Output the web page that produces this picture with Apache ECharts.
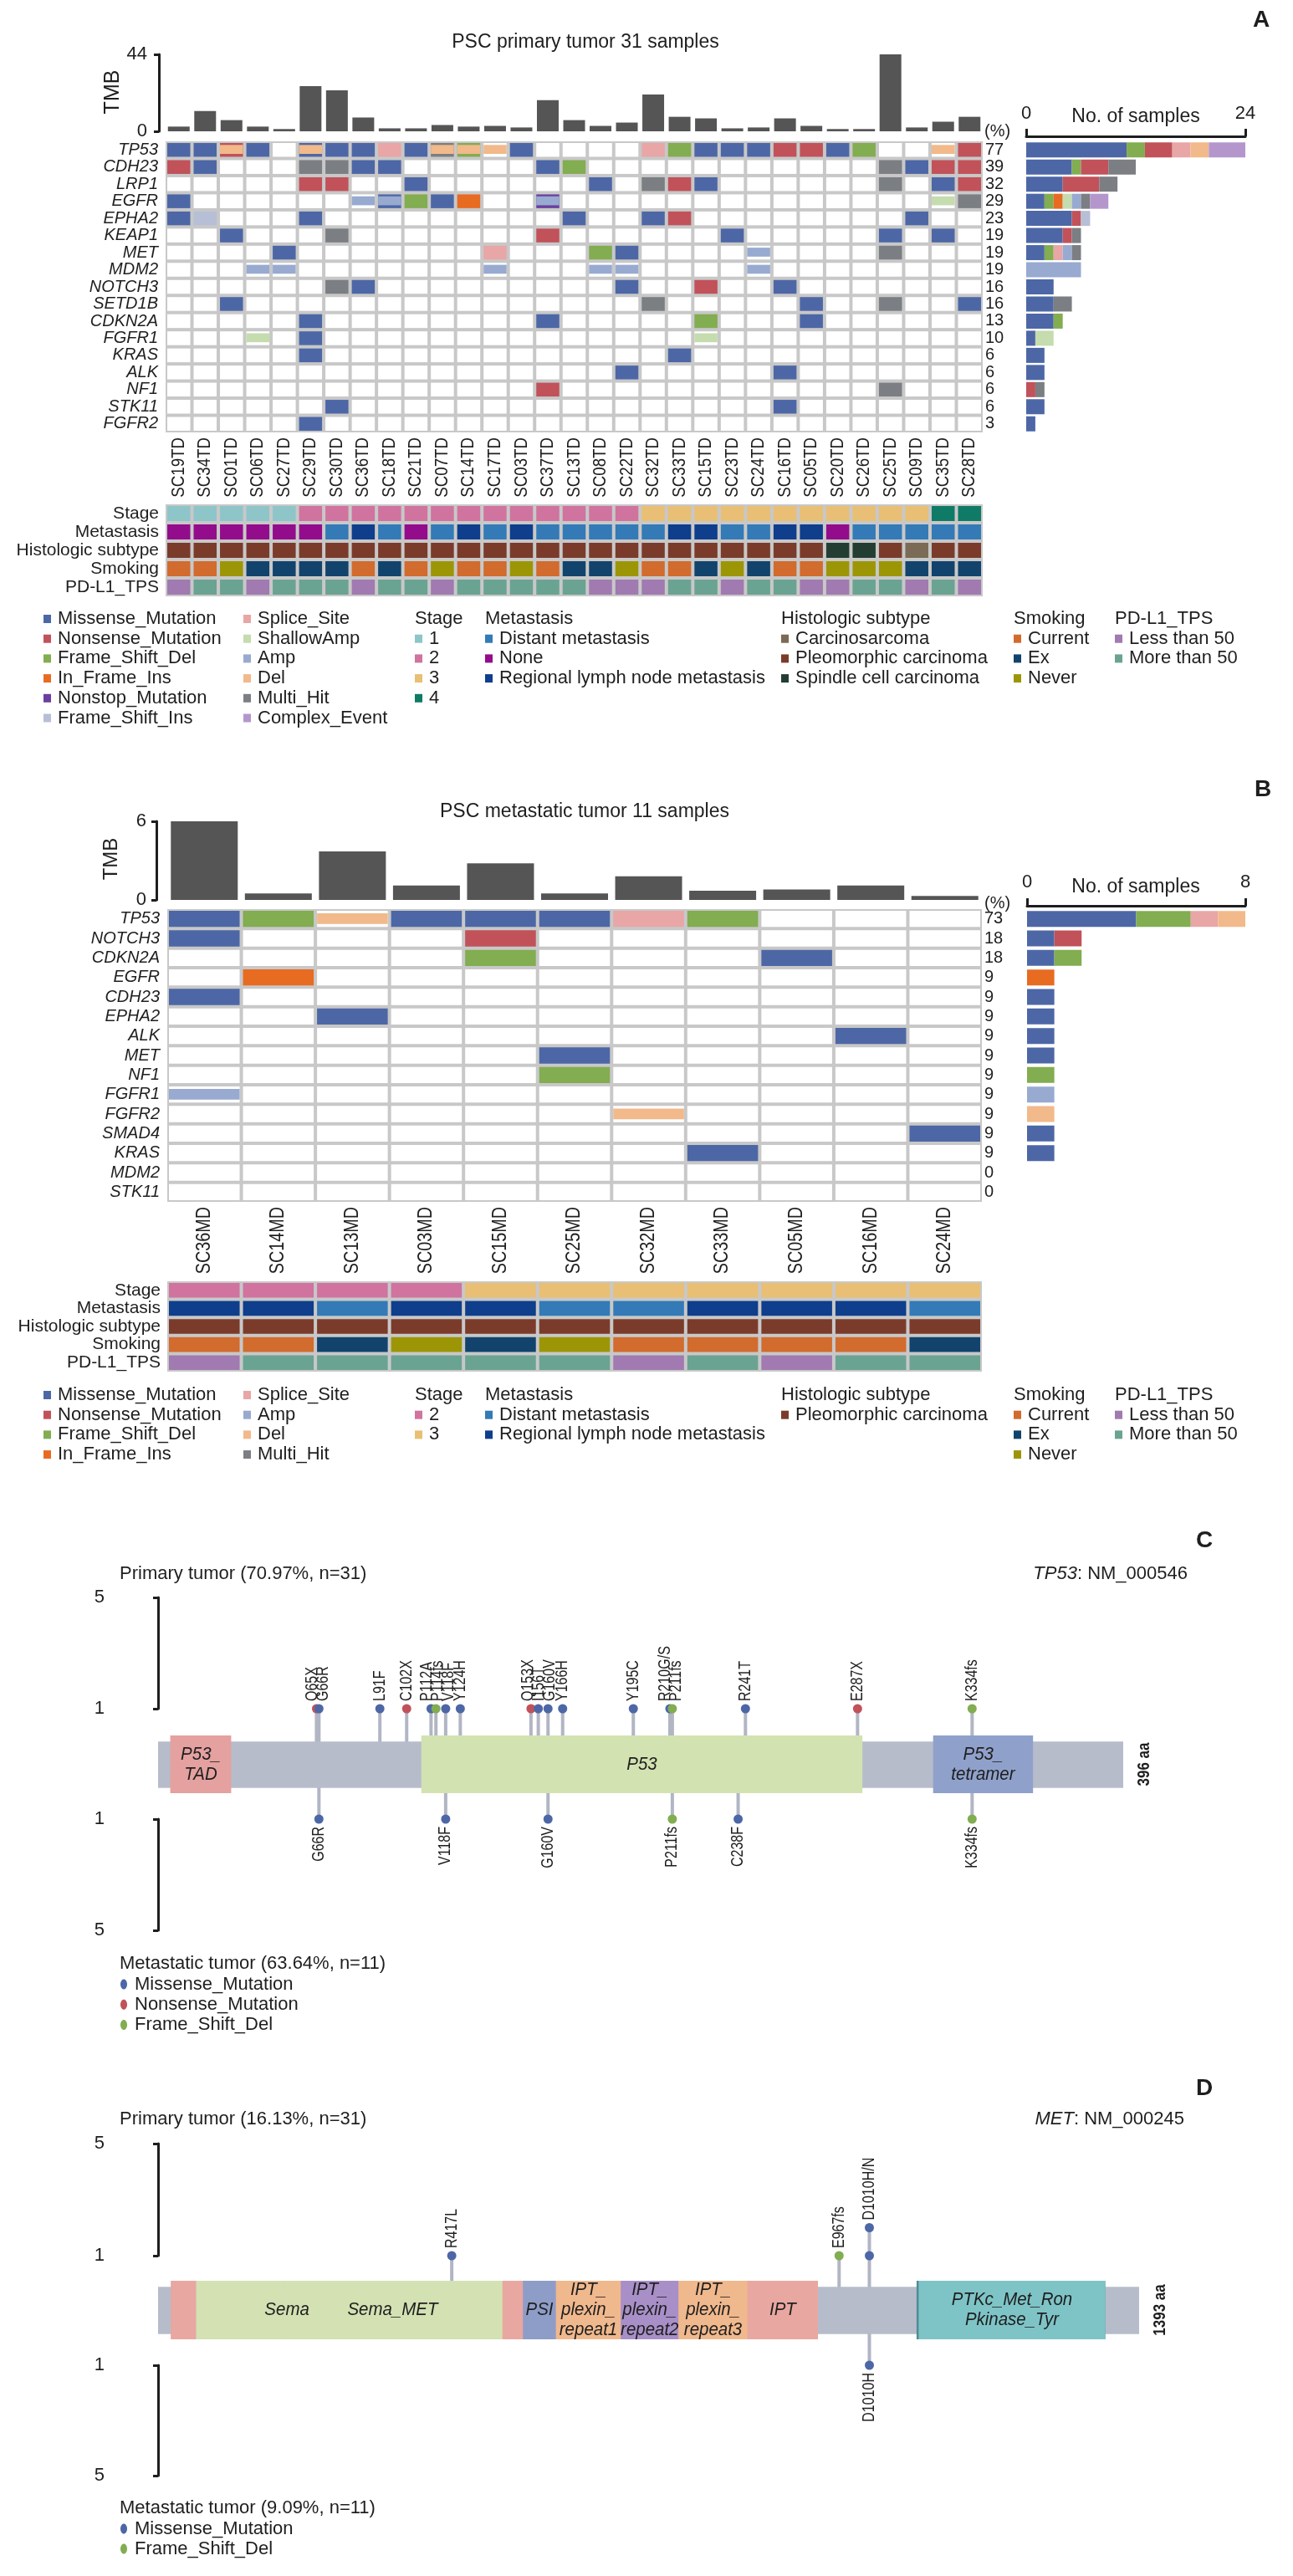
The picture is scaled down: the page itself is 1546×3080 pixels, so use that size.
<!DOCTYPE html>
<html><head><meta charset="utf-8">
<script src="https://cdn.jsdelivr.net/npm/echarts@6/dist/echarts.min.js"></script>
<style>html,body{margin:0;padding:0;background:#fff}#c{width:1546px;height:3080px}</style>
</head><body><div id="c"></div>
<script>
// ================= DATA =================
const samplesA = ['SC19TD','SC34TD','SC01TD','SC06TD','SC27TD','SC29TD','SC30TD','SC36TD','SC18TD','SC21TD','SC07TD','SC14TD','SC17TD','SC03TD','SC37TD','SC13TD','SC08TD','SC22TD','SC32TD','SC33TD','SC15TD','SC23TD','SC24TD','SC16TD','SC05TD','SC20TD','SC26TD','SC25TD','SC09TD','SC35TD','SC28TD'];
const genesA = ['TP53','CDH23','LRP1','EGFR','EPHA2','KEAP1','MET','MDM2','NOTCH3','SETD1B','CDKN2A','FGFR1','KRAS','ALK','NF1','STK11','FGFR2'];
const pctA = [77,39,32,29,23,19,19,19,16,16,13,10,6,6,6,6,3];
const tmbA = [2.7,11.6,6.4,2.7,1.3,25.8,23.4,7.9,1.7,1.7,3.6,2.7,3.1,2.2,17.8,6.4,3.1,5.0,21.1,8.3,7.4,1.7,2.2,7.4,3.1,1.3,1.3,44.0,2.2,5.5,8.3];
// cells "col:code"; upper = mutation (M Missense, N Nonsense, F Frame_Shift_Del, I In_Frame_Ins, T Nonstop, X Frame_Shift_Ins, S Splice_Site, H Multi_Hit), lower = CNV (a Amp, s ShallowAmp, d Del)
const cellsA = [
 '0:M 1:M 2:Nd 3:M 5:Md 6:M 7:M 8:S 9:M 10:Hd 11:Fd 12:d 13:M 18:S 19:F 20:M 21:M 22:M 23:N 24:N 25:M 26:F 29:d 30:N',
 '0:N 1:M 5:H 6:H 7:M 8:M 14:M 15:F 27:H 28:M 29:N 30:N',
 '5:N 6:N 9:M 16:M 18:H 19:N 20:M 27:H 29:M 30:N',
 '0:M 7:a 8:Ma 9:F 10:M 11:I 14:Ta 29:s 30:H',
 '0:M 1:X 5:M 15:M 18:M 19:N 28:M',
 '2:M 6:H 14:N 21:M 27:M 29:M',
 '4:M 12:S 16:F 17:M 22:a 27:H',
 '3:a 4:a 12:a 16:a 17:a 22:a',
 '6:H 7:M 17:M 20:N 23:M',
 '2:M 18:H 24:M 27:H 30:M',
 '5:M 14:M 20:F 24:M',
 '3:s 5:M 20:s',
 '5:M 19:M',
 '17:M 23:M',
 '14:N 27:H',
 '6:M 23:M',
 '5:M'
];
// right-hand sample counts per alteration type (panel A)
const barA_M = [11,5,4,2,5,4,2,0,3,3,3,1,2,2,0,2,1];
const barA_F = [2,1,0,1,0,0,1,0,0,0,1,0,0,0,0,0,0];
const barA_I = [0,0,0,1,0,0,0,0,0,0,0,0,0,0,0,0,0];
const barA_N = [3,3,4,0,1,1,0,0,0,0,0,0,0,0,1,0,0];
const barA_X = [0,0,0,0,1,0,0,0,0,0,0,0,0,0,0,0,0];
const barA_S = [2,0,0,0,0,0,1,0,0,0,0,0,0,0,0,0,0];
const barA_s = [0,0,0,1,0,0,0,0,0,0,0,2,0,0,0,0,0];
const barA_a = [0,0,0,1,0,0,1,6,0,0,0,0,0,0,0,0,0];
const barA_d = [2,0,0,0,0,0,0,0,0,0,0,0,0,0,0,0,0];
const barA_H = [0,3,2,1,0,1,1,0,0,2,0,0,0,0,1,0,0];
const barA_C = [4,0,0,2,0,0,0,0,0,0,0,0,0,0,0,0,0];
const trackNames = ['Stage','Metastasis','Histologic subtype','Smoking','PD-L1_TPS'];
const stageA = '1 1 1 1 1 2 2 2 2 2 2 2 2 2 2 2 2 2 3 3 3 3 3 3 3 3 3 3 3 4 4';
const metaA  = 'N N N N N N D R D N D R D R D D D D D R R D D R R N D D D D D';
const histA  = 'P P P P P P P P P P P P P P P P P P P P P P P P P S S P C P P';
const smokeA = 'C C N E E E E C E C N C C N C E E N C C E N E C C N N N E E E';
const pdA    = 'L M M L M M M L M M L M M M M M L L L M M L M M L L M M L M L';

const samplesB = ['SC36MD','SC14MD','SC13MD','SC03MD','SC15MD','SC25MD','SC32MD','SC33MD','SC05MD','SC16MD','SC24MD'];
const genesB = ['TP53','NOTCH3','CDKN2A','EGFR','CDH23','EPHA2','ALK','MET','NF1','FGFR1','FGFR2','SMAD4','KRAS','MDM2','STK11'];
const pctB = [73,18,18,9,9,9,9,9,9,9,9,9,9,0,0];
const tmbB = [6.3,0.5,3.7,1.1,2.8,0.5,1.8,0.7,0.8,1.1,0.3];
const cellsB = [
 '0:M 1:F 2:d 3:M 4:M 5:M 6:S 7:F',
 '0:M 4:N', '4:F 8:M', '1:I', '0:M', '2:M', '9:M', '5:M', '5:F', '0:a', '6:d', '10:M', '7:M', '', ''
];
const barB_M = [4,1,1,0,1,1,1,1,0,0,0,1,1,0,0];
const barB_F = [2,0,1,0,0,0,0,0,1,0,0,0,0,0,0];
const barB_I = [0,0,0,1,0,0,0,0,0,0,0,0,0,0,0];
const barB_N = [0,1,0,0,0,0,0,0,0,0,0,0,0,0,0];
const barB_S = [1,0,0,0,0,0,0,0,0,0,0,0,0,0,0];
const barB_a = [0,0,0,0,0,0,0,0,0,1,0,0,0,0,0];
const barB_d = [1,0,0,0,0,0,0,0,0,0,1,0,0,0,0];
const stageB = '2 2 2 2 3 3 3 3 3 3 3';
const metaB  = 'R R D R R D D R R R D';
const histB  = 'P P P P P P P P P P P';
const smokeB = 'C C E N E N C C C C E';
const pdB    = 'L M M M M M L M L M M';

// lollipops (TP53, 396 aa)
const lenC = 396;
const domKeyC = ['P53_TAD','P53','P53_tetramer'];
const domStartC = [5,108,318];
const domEndC = [30,289,359];
const popC_aa = [65,66,91,102,112,114,118,124,153,156,160,166,195,210,211,241,287,334];
const popC_n = [1,1,1,1,1,1,1,1,1,1,1,1,1,1,1,1,1,1];
const popC_type = ['N','M','M','N','M','F','M','M','N','M','M','M','M','M','F','M','N','F'];
const popC_label = ['Q65X','G66R','L91F','C102X','P112A','P114fs','V118F','Y124H','Q153X','I156T','G160V','Y166H','Y195C','R210G/S','P211fs','R241T','E287X','K334fs'];
const metC_aa = [66,118,160,211,238,334];
const metC_n = [1,1,1,1,1,1];
const metC_type = ['M','M','M','F','M','F'];
const metC_label = ['G66R','V118F','G160V','P211fs','C238F','K334fs'];
// MET, 1393 aa
const lenD = 1393;
const domKeyD = ['MET_ext','Sema','Sema_MET','PSI','IPT_plexin_repeat1','IPT_plexin_repeat2','IPT_plexin_repeat3','IPT','Pkinase_edge','PTKc_Met_Ron'];
const domStartD = [18,54,177,518,565,657,739,837,1077,1080];
const domEndD = [937,312,489,565,657,739,837,937,1345,1345];
const popD_aa = [417,967,1010];
const popD_n = [1,1,2];
const popD_type = ['M','F','M'];
const popD_label = ['R417L','E967fs','D1010H/N'];
const metD_aa = [1010];
const metD_n = [1];
const metD_type = ['M'];
const metD_label = ['D1010H'];

// ================= STYLE =================
const FONT = '"Liberation Sans", Arial, Helvetica, sans-serif';
const TXT = '#1e1e1e';
const COL = {M:'#4d67a6', N:'#c1525a', F:'#82ad50', I:'#e86b22', T:'#6b3fa0', X:'#b6bfd5', S:'#e8a6a6', s:'#c5dcae', a:'#98aad0', d:'#f2b98b', H:'#7b7e82', C:'#b496cc'};
const TYPE_NAME = {M:'Missense_Mutation', N:'Nonsense_Mutation', F:'Frame_Shift_Del', I:'In_Frame_Ins', T:'Nonstop_Mutation', X:'Frame_Shift_Ins', S:'Splice_Site', s:'ShallowAmp', a:'Amp', d:'Del', H:'Multi_Hit', C:'Complex_Event'};
const TRACK_COL = [
  {'1':'#8ec5c9','2':'#d0739f','3':'#e8bf74','4':'#0f7a66'},
  {D:'#337ab7',N:'#930c8c',R:'#0e3e8c'},
  {C:'#7b6a55',P:'#7b3b2b',S:'#233d33'},
  {C:'#d26b2e',E:'#12436d',N:'#9c9606'},
  {L:'#a07ab0',M:'#6aa392'}
];
const DOM_COL = {P53_TAD:'#e4a19f', P53:'#d3e2b1', P53_tetramer:'#8fa1cb', MET_ext:'#e8a7a0', Sema:'#d3e1b3', Sema_MET:'#d3e1b3', PSI:'#8d9dc8', IPT_plexin_repeat1:'#f0b88d', IPT_plexin_repeat2:'#a88fc8', IPT_plexin_repeat3:'#f0b88d', IPT:'#e8a7a0', Pkinase_edge:'#4f8c96', PTKc_Met_Ron:'#7ec4c7'};
const DOM_LABEL = {P53_TAD:'P53_\nTAD', P53:'P53', P53_tetramer:'P53_\ntetramer', MET_ext:'', Sema:'Sema', Sema_MET:'Sema_MET', PSI:'PSI', IPT_plexin_repeat1:'IPT_\nplexin_\nrepeat1', IPT_plexin_repeat2:'IPT_\nplexin_\nrepeat2', IPT_plexin_repeat3:'IPT_\nplexin_\nrepeat3', IPT:'IPT', Pkinase_edge:'', PTKc_Met_Ron:'PTKc_Met_Ron\nPkinase_Tyr'};
const BACKBONE = '#b7bccb', STEM = '#b1b5c4', GRIDBG = '#c8c8c8', TMBCOL = '#555555';

// ================= HELPERS =================
function parseCells(rows, n){
  const out = [];
  rows.forEach((r, gi) => {
    const map = {};
    r.trim().split(/\s+/).filter(Boolean).forEach(t => { const p = t.split(':'); map[+p[0]] = p[1]; });
    for (let c = 0; c < n; c++) { const code = map[c] || ''; out.push({col:c, row:gi, mut:code.replace(/[asd]/g,''), cnv:code.replace(/[^asd]/g,'')}); }
  });
  return out;
}
function parseTracks(list){
  const out = [];
  list.forEach((s, ti) => s.split(' ').forEach((v, c) => out.push({col:c, row:ti, color:TRACK_COL[ti][v]})));
  return out;
}
function heatSeries(cells, xi, yi, band){
  return {type:'custom', xAxisIndex:xi, yAxisIndex:yi, silent:true, animation:false,
    data: cells.map(c => [c.col, c.row]),
    renderItem: (params, api) => {
      const c = cells[params.dataIndex];
      const p = api.coord([c.col, c.row]); const s = api.size([1,1]);
      const w = s[0]-4, h = s[1]-4, x = p[0]-w/2, y = p[1]-h/2;
      const ch = [{type:'rect', shape:{x, y, width:w, height:h}, style:{fill: c.mut ? COL[c.mut] : '#fff'}}];
      if (c.cnv) ch.push({type:'rect', shape:{x, y:y+h*band[0], width:w, height:h*(band[1]-band[0])}, style:{fill:COL[c.cnv]}});
      return {type:'group', children:ch};
    }};
}
function trackSeries(items, xi, yi){
  return {type:'custom', xAxisIndex:xi, yAxisIndex:yi, silent:true, animation:false,
    data: items.map(c => [c.col, c.row]),
    renderItem: (params, api) => {
      const c = items[params.dataIndex];
      const p = api.coord([c.col, c.row]); const s = api.size([1,1]);
      const w = s[0]-4, h = s[1]-4;
      return {type:'rect', shape:{x:p[0]-w/2, y:p[1]-h/2, width:w, height:h}, style:{fill:c.color}};
    }};
}
function repel(xs, gap){
  const idx = xs.map((x,i)=>i).sort((a,b)=>xs[a]-xs[b]);
  const cl = [];
  idx.forEach(i => { const last = cl[cl.length-1]; if (last && xs[i]-xs[last[last.length-1]] < gap) last.push(i); else cl.push([i]); });
  const out = new Array(xs.length);
  cl.forEach(g => { const m = g.reduce((s,i)=>s+xs[i],0)/g.length; g.forEach((i,k)=>{ out[i] = m + (k-(g.length-1)/2)*gap; }); });
  return out;
}
function lolliSeries(aa, n, type, xi, yi){
  return {type:'custom', xAxisIndex:xi, yAxisIndex:yi, silent:true, z:2, animation:false,
    data: aa.map((a,i)=>[a, n[i]]),
    renderItem: (params, api) => {
      const i = params.dataIndex;
      const base = api.coord([aa[i], -0.35]), tip = api.coord([aa[i], n[i]]);
      const ch = [{type:'line', shape:{x1:base[0], y1:base[1], x2:tip[0], y2:tip[1]}, style:{stroke:STEM, lineWidth:4}}];
      for (let k=1; k<=n[i]; k++){ const p = api.coord([aa[i], k]); ch.push({type:'circle', z2:5, shape:{cx:p[0], cy:p[1], r:5.5}, style:{fill:COL[type[i]]}}); }
      return {type:'group', children:ch};
    }};
}
function proteinSeries(len, keys, starts, ends, xi, yi){
  const items = [{bb:true, s:0, e:len}].concat(keys.map((k,i)=>({k, s:starts[i], e:ends[i]})));
  return {type:'custom', xAxisIndex:xi, yAxisIndex:yi, silent:true, z:3, animation:false,
    data: items.map(it => [it.s, it.e]),
    renderItem: (params, api) => {
      const it = items[params.dataIndex];
      if (it.bb){
        const a = api.coord([0, 0.895]), b = api.coord([len, 0.09]);
        return {type:'rect', shape:{x:a[0], y:a[1], width:b[0]-a[0], height:b[1]-a[1]}, style:{fill:BACKBONE}};
      }
      const a = api.coord([it.s, 1]), b = api.coord([it.e, 0]);
      return {type:'rect', shape:{x:a[0], y:a[1], width:b[0]-a[0], height:b[1]-a[1]}, style:{fill:DOM_COL[it.k]}};
    }};
}
function barSeries(codes, arrays, xi, yi, stack, bw){
  return codes.map((c,i) => ({type:'bar', name:TYPE_NAME[c], xAxisIndex:xi, yAxisIndex:yi, stack, barWidth:bw, silent:true, animation:false, itemStyle:{color:COL[c]}, data:arrays[i]}));
}

// ================= GRAPHIC TEXT =================
const G = [];
function txt(x, y, text, font, align, va, rot, extra, el){
  align = align || 'left'; va = va || 'middle';
  G.push(Object.assign({type:'text', x, y, rotation:rot||0, silent:true, z:50, style:Object.assign({text, font, fill:TXT, align, textAlign:align, verticalAlign:va, textVerticalAlign:va}, extra||{})}, el||{}));
}
function legendCol(x, y0, dy, title, items, shape){
  let r = 0;
  if (title){ txt(x, y0, title, '22px '+FONT); r = 1; }
  items.forEach(([label, color]) => {
    const y = y0 + dy*r;
    if (shape === 'dot') G.push({type:'ellipse', silent:true, shape:{cx:x+5, cy:y, rx:4, ry:6}, style:{fill:color}});
    else G.push({type:'rect', silent:true, shape:{x:x, y:y-5, width:9, height:10}, style:{fill:color}});
    txt(x + (shape==='dot'?18:17), y, label, '22px '+FONT);
    r++;
  });
}
const mk = codes => codes.map(c => [TYPE_NAME[c], COL[c]]);
// Panel A
txt(1508, 24, 'A', 'bold 28px '+FONT, 'center');
txt(700, 51, 'PSC primary tumor 31 samples', '23px '+FONT, 'center');
txt(135, 110, 'TMB', '25px '+FONT, 'center', 'middle', Math.PI/2);
txt(1177, 157, '(%)', '20px '+FONT);
txt(1358, 140, 'No. of samples', '23px '+FONT, 'center');
const LA = 740, LD = 23.7;
legendCol(52, LA, LD, null, mk(['M','N','F','I','T','X']));
legendCol(291, LA, LD, null, mk(['S','s','a','d','H','C']));
legendCol(496, LA, LD, 'Stage', [['1',TRACK_COL[0]['1']],['2',TRACK_COL[0]['2']],['3',TRACK_COL[0]['3']],['4',TRACK_COL[0]['4']]]);
legendCol(580, LA, LD, 'Metastasis', [['Distant metastasis',TRACK_COL[1].D],['None',TRACK_COL[1].N],['Regional lymph node metastasis',TRACK_COL[1].R]]);
legendCol(934, LA, LD, 'Histologic subtype', [['Carcinosarcoma',TRACK_COL[2].C],['Pleomorphic carcinoma',TRACK_COL[2].P],['Spindle cell carcinoma',TRACK_COL[2].S]]);
legendCol(1212, LA, LD, 'Smoking', [['Current',TRACK_COL[3].C],['Ex',TRACK_COL[3].E],['Never',TRACK_COL[3].N]]);
legendCol(1333, LA, LD, 'PD-L1_TPS', [['Less than 50',TRACK_COL[4].L],['More than 50',TRACK_COL[4].M]]);
// Panel B
txt(1510, 944, 'B', 'bold 28px '+FONT, 'center');
txt(699, 971, 'PSC metastatic tumor 11 samples', '23px '+FONT, 'center');
txt(133, 1027, 'TMB', '24px '+FONT, 'center', 'middle', Math.PI/2);
txt(1177, 1080, '(%)', '20px '+FONT);
txt(1358, 1061, 'No. of samples', '23px '+FONT, 'center');
const LB = 1668;
legendCol(52, LB, LD, null, mk(['M','N','F','I']));
legendCol(291, LB, LD, null, mk(['S','a','d','H']));
legendCol(496, LB, LD, 'Stage', [['2',TRACK_COL[0]['2']],['3',TRACK_COL[0]['3']]]);
legendCol(580, LB, LD, 'Metastasis', [['Distant metastasis',TRACK_COL[1].D],['Regional lymph node metastasis',TRACK_COL[1].R]]);
legendCol(934, LB, LD, 'Histologic subtype', [['Pleomorphic carcinoma',TRACK_COL[2].P]]);
legendCol(1212, LB, LD, 'Smoking', [['Current',TRACK_COL[3].C],['Ex',TRACK_COL[3].E],['Never',TRACK_COL[3].N]]);
legendCol(1333, LB, LD, 'PD-L1_TPS', [['Less than 50',TRACK_COL[4].L],['More than 50',TRACK_COL[4].M]]);
// Panel C
txt(1440, 1842, 'C', 'bold 28px '+FONT, 'center');
txt(143, 1882, 'Primary tumor (70.97%, n=31)', '22px '+FONT);
txt(1420, 1882, '{i|TP53}: NM_000546', '22px '+FONT, 'right', 'middle', 0, {rich:{i:{font:'italic 22px '+FONT, fill:TXT}}});
txt(143, 2348, 'Metastatic tumor (63.64%, n=11)', '22px '+FONT);
legendCol(143, 2372.5, 24.3, null, mk(['M','N','F']), 'dot');
// Panel D
txt(1440, 2497, 'D', 'bold 28px '+FONT, 'center');
txt(143, 2534, 'Primary tumor (16.13%, n=31)', '22px '+FONT);
txt(1416, 2534, '{i|MET}: NM_000245', '22px '+FONT, 'right', 'middle', 0, {rich:{i:{font:'italic 22px '+FONT, fill:TXT}}});
txt(143, 2999, 'Metastatic tumor (9.09%, n=11)', '22px '+FONT);
legendCol(143, 3023.5, 24, null, mk(['M','F']), 'dot');

// ================= AXES =================
const lab = (o) => Object.assign({color:TXT, fontFamily:FONT}, o);
const hidCat = (gi, data, inv) => ({gridIndex:gi, type:'category', data, inverse:!!inv, show:false});
const hidVal = (gi, min, max) => ({gridIndex:gi, type:'value', min, max, show:false});
const blackLine = {show:true, lineStyle:{color:'#1e1e1e', width:3}};
const tmbAxis = (gi, max, off, margin) => ({gridIndex:gi, type:'value', min:0, max, interval:max, offset:off,
  axisLine:blackLine, axisTick:{show:true, length:6, lineStyle:{color:'#1e1e1e', width:3}},
  axisLabel:lab({fontSize:22, margin}), splitLine:{show:false}});
const cntAxis = (gi, max, off, margin) => ({gridIndex:gi, type:'value', position:'top', min:0, max, interval:max, offset:off,
  axisLine:blackLine, axisTick:{show:true, length:9, lineStyle:{color:'#1e1e1e', width:3}},
  axisLabel:lab({fontSize:22, margin}), splitLine:{show:false}});
const geneAxis = (gi, data) => ({gridIndex:gi, type:'category', data, inverse:true, axisLine:{show:false}, axisTick:{show:false},
  axisLabel:lab({fontSize:20, fontStyle:'italic', margin:9, interval:0})});
const pctAxis = (gi, data, pct) => ({gridIndex:gi, type:'category', data, inverse:true, position:'right', axisLine:{show:false}, axisTick:{show:false},
  axisLabel:lab({fontSize:20, margin:3, interval:0, formatter:(v,i)=>String(pct[i])})});
const sampleAxis = (gi, data) => ({gridIndex:gi, type:'category', data, position:'bottom', axisLine:{show:false}, axisTick:{show:false}, axisLabel:{show:false}});
const trackAxis = (gi) => ({gridIndex:gi, type:'category', data:trackNames, inverse:true, axisLine:{show:false}, axisTick:{show:false},
  axisLabel:lab({fontSize:21, margin:8, interval:0})});
const popAxis = (gi, inv) => ({gridIndex:gi, type:'value', min:1, max:5, interval:4, inverse:!!inv, offset:50,
  axisLine:blackLine, axisTick:{show:true, length:6, lineStyle:{color:'#1e1e1e', width:3}, customValues:[1,5]},
  axisLabel:lab({fontSize:22, margin:14, customValues:[1,5]}), splitLine:{show:false}});

const gbase = {outerBoundsMode:'none', containLabel:false};
const bgGrid = {show:true, backgroundColor:GRIDBG, borderWidth:0};
const grids = [
  {left:198, top:65, width:977, height:92},
  Object.assign({left:198, top:169, width:977, height:348}, bgGrid),
  {left:1227, top:169, width:262, height:348},
  Object.assign({left:198, top:603, width:977, height:110}, bgGrid),
  {left:200, top:982, width:974, height:94},
  Object.assign({left:200, top:1087, width:974, height:350}, bgGrid),
  {left:1228, top:1087, width:261, height:350},
  Object.assign({left:200, top:1532, width:974, height:108}, bgGrid),
  {left:189, top:1910, width:1154, height:133},
  {left:189, top:2075, width:1154, height:69},
  {left:189, top:2175, width:1154, height:133},
  {left:189, top:2563, width:1173, height:134},
  {left:189, top:2727, width:1173, height:70},
  {left:189, top:2828, width:1173, height:132}
].map(g => Object.assign({}, gbase, g));

const xAxes = [
  hidCat(0, samplesA), sampleAxis(1, samplesA), cntAxis(2, 24, 6, 16), hidCat(3, samplesA),
  hidCat(4, samplesB), sampleAxis(5, samplesB), cntAxis(6, 8, 4, 17), hidCat(7, samplesB),
  hidVal(8, 0, lenC), hidVal(9, 0, lenC), hidVal(10, 0, lenC),
  hidVal(11, 0, lenD), hidVal(12, 0, lenD), hidVal(13, 0, lenD)
];
const yAxes = [
  tmbAxis(0, 44, 8, 14), geneAxis(1, genesA), pctAxis(1, genesA, pctA), hidCat(2, genesA, true), trackAxis(3),
  tmbAxis(4, 6, 13, 12), geneAxis(5, genesB), pctAxis(5, genesB, pctB), hidCat(6, genesB, true), trackAxis(7),
  popAxis(8, false), hidVal(9, 0, 1), popAxis(10, true),
  popAxis(11, false), hidVal(12, 0, 1), popAxis(13, true)
];

// ================= SERIES =================
const cA = parseCells(cellsA, samplesA.length), cB = parseCells(cellsB, samplesB.length);
const series = [].concat(
  [{type:'bar', xAxisIndex:0, yAxisIndex:0, data:tmbA, barWidth:26, silent:true, animation:false, itemStyle:{color:TMBCOL}}],
  [heatSeries(cA, 1, 1, [0.14, 0.79])],
  barSeries(['M','F','I','N','X','S','s','a','d','H','C'], [barA_M,barA_F,barA_I,barA_N,barA_X,barA_S,barA_s,barA_a,barA_d,barA_H,barA_C], 2, 3, 'a', 18),
  [trackSeries(parseTracks([stageA, metaA, histA, smokeA, pdA]), 3, 4)],
  [{type:'bar', xAxisIndex:4, yAxisIndex:5, data:tmbB, barWidth:80, silent:true, animation:false, itemStyle:{color:TMBCOL}}],
  [heatSeries(cB, 5, 6, [0.16, 0.82])],
  barSeries(['M','F','I','N','S','a','d'], [barB_M,barB_F,barB_I,barB_N,barB_S,barB_a,barB_d], 6, 8, 'b', 19),
  [trackSeries(parseTracks([stageB, metaB, histB, smokeB, pdB]), 7, 9)],
  [proteinSeries(lenC, domKeyC, domStartC, domEndC, 9, 11)],
  [lolliSeries(popC_aa, popC_n, popC_type, 8, 10)],
  [lolliSeries(metC_aa, metC_n, metC_type, 10, 12)],
  [proteinSeries(lenD, domKeyD, domStartD, domEndD, 12, 14)],
  [lolliSeries(popD_aa, popD_n, popD_type, 11, 13)],
  [lolliSeries(metD_aa, metD_n, metD_type, 13, 15)]
);

const chart = echarts.init(document.getElementById('c'), null, {renderer:'canvas', width:1546, height:3080});
chart.setOption({
  backgroundColor:'#ffffff', animation:false,
  textStyle:{fontFamily:FONT},
  grid:grids, xAxis:xAxes, yAxis:yAxes, series, graphic:G
});

// ---- labels placed through the chart's own scales (convertToPixel) ----
function sampleLabels(samples, xi, yi, nRows, size, sx){
  const f = {xAxisIndex:xi, yAxisIndex:yi};
  const last = chart.convertToPixel(f, [0, nRows-1]), prev = chart.convertToPixel(f, [0, nRows-2]);
  const bottom = last[1] + (last[1]-prev[1])/2;
  samples.forEach((s, i) => {
    const p = chart.convertToPixel(f, [i, nRows-1]);
    txt(p[0], bottom + 6, s, size+'px '+FONT, 'right', 'middle', Math.PI/2, null, {scaleX:sx});
  });
}
function lolliLabels(aa, n, label, xi, yi, side){
  const f = {xAxisIndex:xi, yAxisIndex:yi};
  const xs = aa.map(a => chart.convertToPixel(f, [a, 1])[0]);
  const lx = repel(xs, 13);
  aa.forEach((a, i) => {
    const tip = chart.convertToPixel(f, [a, n[i]]);
    txt(lx[i], tip[1] + (side > 0 ? -9 : 9), label[i], '20px '+FONT, side > 0 ? 'left' : 'right', 'middle', Math.PI/2, null, {scaleX:0.8});
  });
}
function domainLabels(len, keys, starts, ends, xi, yi){
  const f = {xAxisIndex:xi, yAxisIndex:yi};
  keys.forEach((k, i) => {
    if (!DOM_LABEL[k]) return;
    const c = chart.convertToPixel(f, [(starts[i]+ends[i])/2, 0.5]);
    txt(c[0], c[1], DOM_LABEL[k], 'italic 22px '+FONT, 'center', 'middle', 0, {lineHeight:24}, {scaleX:0.93});
  });
  const m = chart.convertToPixel(f, [len, 0.5]);
  txt(m[0] + 25, m[1], len + ' aa', 'bold 20px '+FONT, 'center', 'middle', Math.PI/2, null, {scaleX:0.85});
}
sampleLabels(samplesA, 1, 1, genesA.length, 22, 0.85);
sampleLabels(samplesB, 5, 6, genesB.length, 23, 0.86);
lolliLabels(popC_aa, popC_n, popC_label, 8, 10, 1);
lolliLabels(metC_aa, metC_n, metC_label, 10, 12, -1);
lolliLabels(popD_aa, popD_n, popD_label, 11, 13, 1);
lolliLabels(metD_aa, metD_n, metD_label, 13, 15, -1);
domainLabels(lenC, domKeyC, domStartC, domEndC, 9, 11);
domainLabels(lenD, domKeyD, domStartD, domEndD, 12, 14);
chart.setOption({graphic: G});
</script></body></html>
